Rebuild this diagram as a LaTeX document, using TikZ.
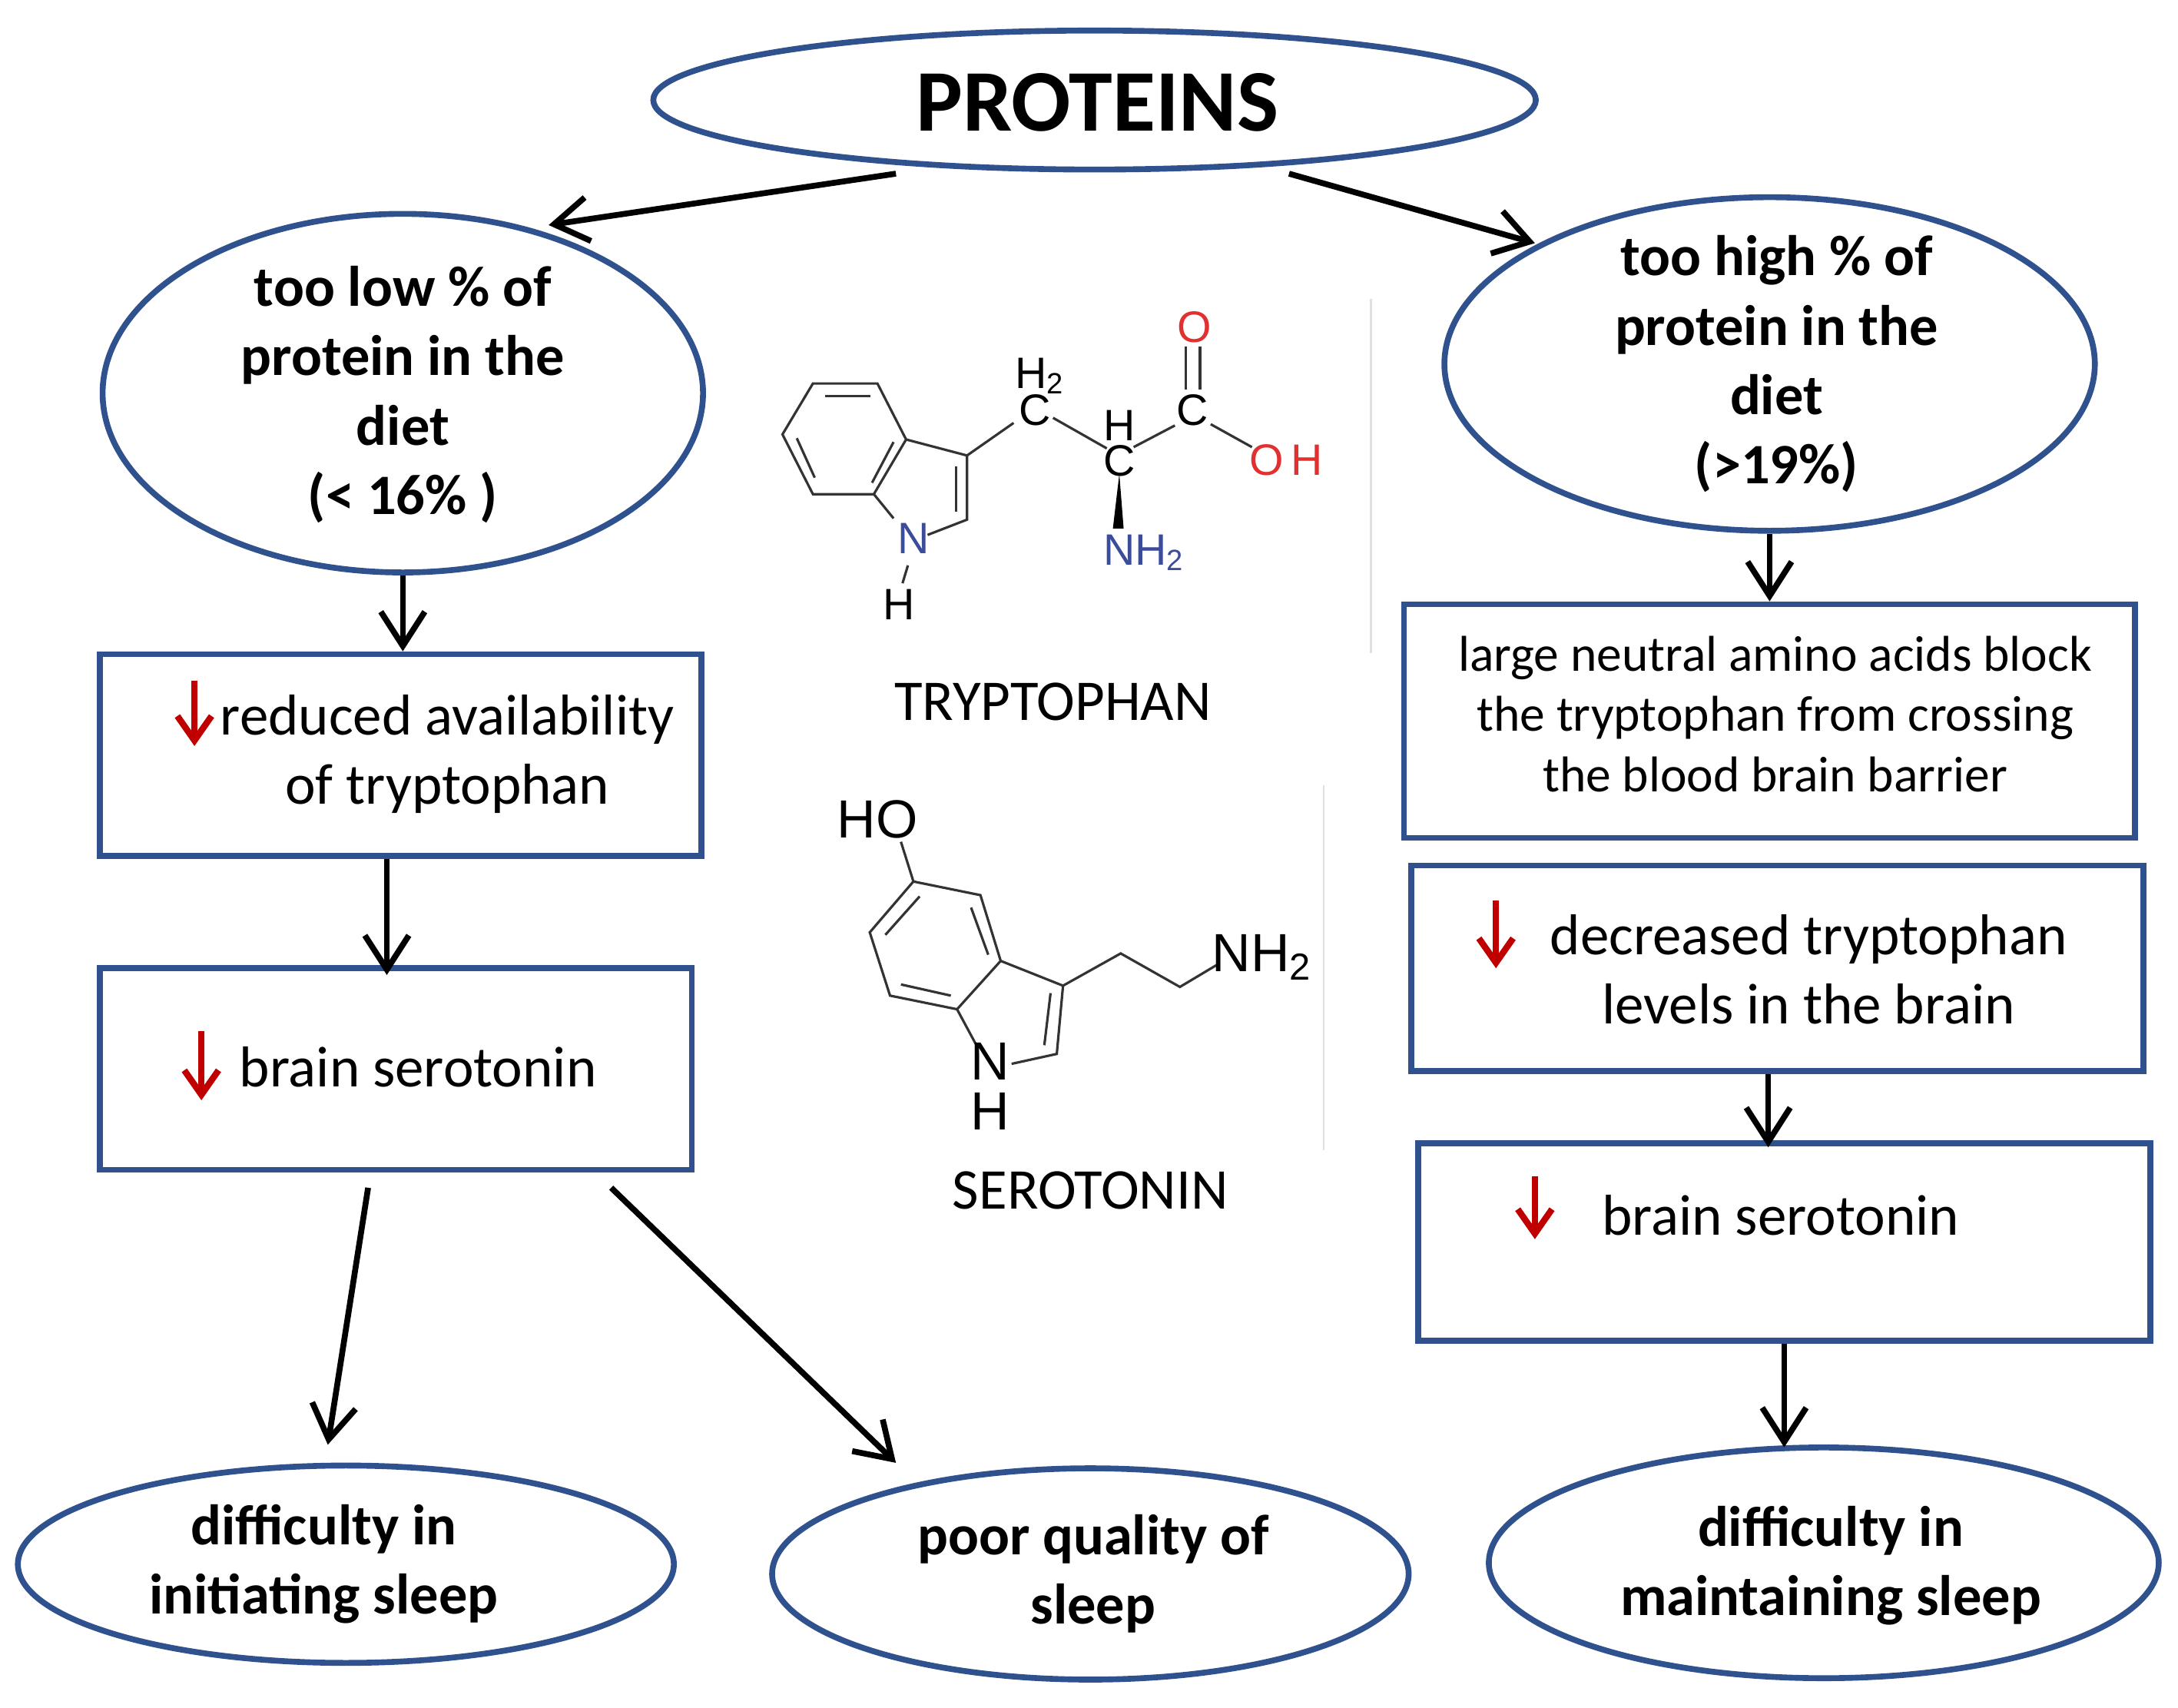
\documentclass[tikz,border=0pt]{standalone}
\usepackage{fontspec}
\setmainfont{Carlito}
\newfontfamily\chem{Liberation Sans}
\usetikzlibrary{shapes.geometric,arrows.meta}
\definecolor{frame}{HTML}{2F528F}
\definecolor{down}{HTML}{C00000}
\definecolor{oxy}{HTML}{E03030}
\definecolor{nitro}{HTML}{3A4C9A}
\begin{document}
\begin{tikzpicture}[x=0.01cm,y=-0.01cm,
  oval/.style={ellipse, draw=frame, line width=1.2pt, inner sep=0pt, align=center},
  ovaltxt/.style={align=center, inner sep=0pt, font=\fontsize{11.7}{14.2}\selectfont\bfseries},
  box/.style={rectangle, draw=frame, line width=1.2pt, inner sep=0pt},
  txt/.style={align=center, inner sep=0pt, font=\fontsize{11.8}{14.2}\selectfont},
  arr/.style={-{Straight Barb[length=7pt,width=9pt]}, line width=1.2pt},
  redarr/.style={-{Straight Barb[length=5pt,width=7pt]}, line width=1.3pt, draw=down},
  bond/.style={line width=0.5pt, draw=black!80},
  atom/.style={inner sep=0pt, font=\chem\fontsize{9}{9}\selectfont},
  satom/.style={inner sep=0pt, font=\chem\fontsize{11}{11}\selectfont},
  sep/.style={draw=black!12, line width=0.4pt}]
\useasboundingbox (0,0) rectangle (1568,1229);

% top
\node[oval, minimum width=6.35cm, minimum height=1.0cm] (prot) at (788,72) {};
\node[ovaltxt, font=\fontsize{18}{20}\selectfont\bfseries] (prott) at (790,74) {PROTEINS};

% left branch
\node[oval, minimum width=4.32cm, minimum height=2.58cm] (low) at (290,283) {};
\node[ovaltxt] (lowt) at (290,284) {too low \% of\\protein in the\\diet\\(< 16\% )};
\node[box, minimum width=4.33cm, minimum height=1.45cm] (lb1) at (288.5,543.5) {};
\node[txt] (lb1t) at (322,543) {reduced availability\\of tryptophan};
\node[box, minimum width=4.26cm, minimum height=1.45cm] (lb2) at (285,769.5) {};
\node[txt] (lb2t) at (301,768) {brain serotonin};

% right branch
\node[oval, minimum width=4.68cm, minimum height=2.40cm] (high) at (1274,262) {};
\node[ovaltxt] (hight) at (1279,262) {too high \% of\\protein in the\\diet\\(>19\%)};
\node[box, minimum width=5.26cm, minimum height=1.68cm] (rb1) at (1274,519) {};
\node[txt, font=\fontsize{10.3}{12.4}\selectfont] (rb1t) at (1278,514)
  {large neutral amino acids block\\the tryptophan from crossing\\the blood brain barrier};
\node[box, minimum width=5.27cm, minimum height=1.48cm] (rb2) at (1279.5,697) {};
\node[txt] (rb2t) at (1302,698) {decreased tryptophan\\levels in the brain};
\node[box, minimum width=5.27cm, minimum height=1.42cm] (rb3) at (1284.5,894) {};
\node[txt] (rb3t) at (1282,875) {brain serotonin};

% outcomes
\node[oval, minimum width=4.72cm, minimum height=1.42cm] (init) at (249,1126) {};
\node[ovaltxt] (initt) at (233,1126) {difficulty in\\initiating sleep};
\node[oval, minimum width=4.58cm, minimum height=1.52cm] (poor) at (785,1133) {};
\node[ovaltxt] (poort) at (787,1133) {poor quality of\\sleep};
\node[oval, minimum width=4.82cm, minimum height=1.66cm] (maint) at (1313,1125) {};
\node[ovaltxt] (maintt) at (1318,1127) {difficulty in\\maintaining sleep};

% connectors
\coordinate (pl) at (645,125);
\coordinate (pr) at (928,125);
\coordinate (lt) at (395,162);
\coordinate (rt) at (1105,175);
\draw[arr] (pl) -- (lt);
\draw[arr] (pr) -- (rt);
\draw[arr] (low.south) -- (low.south |- lb1.north);
\draw[arr] ([xshift=-0.1cm]lb1.south) -- ([xshift=-0.1cm,yshift=-0.07cm]lb1.south |- lb2.north);
\coordinate (s1) at (265,855);
\coordinate (s2) at (440,855);
\coordinate (e1) at (236,1040);
\coordinate (e2) at (645,1053);
\draw[arr] (s1) -- (e1);
\draw[arr] (s2) -- (e2);
\draw[arr] (high.south) -- (high.south |- rb1.north);
\draw[arr] ([xshift=-0.065cm]rb2.south) -- ([xshift=-0.065cm,yshift=-0.05cm]rb2.south |- rb3.north);
\draw[arr] (rb3.south) -- ([yshift=-0.02cm]rb3.south |- maint.north);

% red down arrows
\draw[redarr] (140,490) -- (140,537);
\draw[redarr] (145,742) -- (145,792);
\draw[redarr] (1077,648) -- (1077,697);
\draw[redarr] (1105,847) -- (1105,892);

% faint separators
\draw[sep] (987,215) -- (987,470);
\draw[sep] (953,565) -- (953,828);

% tryptophan
\begin{scope}[shift={(553,222)}, x=0.002577cm, y=-0.00183cm]
  \draw[bond] (125,295) -- (305,295) -- (385,515) -- (295,730) -- (125,730) -- (40,495) -- cycle;
  \draw[bond] (160,345) -- (285,345);
  \draw[bond] (80,510) -- (130,665);
  \draw[bond] (290,685) -- (350,525);
  \draw[bond] (385,515) -- (555,578) -- (555,830) -- (445,890);
  \draw[bond] (295,730) -- (350,825);
  \draw[bond] (525,620) -- (525,800);
  \draw[bond] (390,1010) -- (375,1080);
  \draw[bond] (555,578) -- (685,450);
  \draw[bond] (795,430) -- (945,550);
  \draw[bond] (1020,545) -- (1135,460);
  \draw[bond] (1165,150) -- (1165,320);
  \draw[bond] (1205,150) -- (1205,320);
  \draw[bond] (1235,455) -- (1350,545);
  \fill (980,650) -- (962,865) -- (992,865) -- cycle;
  \node[atom, text=nitro] (tn) at (405,905) {N};
  \node[atom] (th) at (365,1165) {H};
  \node[atom] (tc1) at (745,400) {C};
  \node[atom] (th2) at (760,265) {H\textsubscript{2}};
  \node[atom] (tch) at (980,460) {H};
  \node[atom] (tc2) at (980,600) {C};
  \node[atom] (tc3) at (1185,400) {C};
  \node[atom, text=oxy] (to) at (1190,75) {O};
  \node[atom, text=oxy] (toh) at (1445,595) {O\,H};
  \node[atom, text=nitro] (tnh) at (1050,960) {NH\textsubscript{2}};
\end{scope}
\node[txt] (tryp) at (758,505) {TRYPTOPHAN};

% serotonin
\begin{scope}[shift={(597,564)}, x=0.00225cm, y=-0.001787cm]
  \draw[bond] (230,235) -- (270,395) -- (485,450) -- (550,715) -- (410,910) -- (195,855) -- (130,600) -- (270,395);
  \draw[bond] (455,500) -- (510,690);
  \draw[bond] (180,610) -- (290,455);
  \draw[bond] (230,810) -- (390,855);
  \draw[bond] (550,715) -- (750,815) -- (730,1090) -- (585,1130);
  \draw[bond] (410,910) -- (470,1050);
  \draw[bond] (710,845) -- (690,1055);
  \draw[bond] (750,815) -- (935,685) -- (1125,820) -- (1245,730);
  \node[satom] (sho) at (155,145) {HO};
  \node[satom] (sn) at (515,1120) {N};
  \node[satom] (sh) at (515,1320) {H};
  \node[satom] (snh) at (1390,700) {NH\textsubscript{2}};
\end{scope}
\node[txt] (sero) at (785,857) {SEROTONIN};
\end{tikzpicture}
\end{document}
